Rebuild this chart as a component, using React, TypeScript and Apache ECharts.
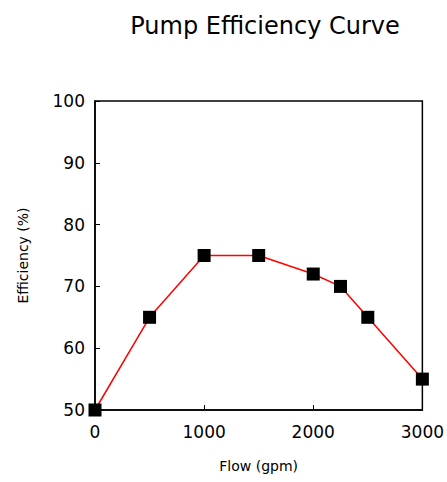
import React, { useEffect, useRef } from "react";
import * as echarts from "echarts";

const flow = [0, 500, 1000, 1500, 2000, 2250, 2500, 3000];
const efficiency = [50, 65, 75, 75, 72, 70, 65, 55];
const titleText = "Pump Efficiency Curve";
const xName = "Flow (gpm)";
const yName = "Efficiency (%)";

export default function App() {
  const ref = useRef<HTMLDivElement>(null);
  useEffect(() => {
    document.body.style.margin = "0";
    const chart = echarts.init(ref.current!, null, { renderer: "svg" });
    const font = "DejaVu Sans, sans-serif";
    chart.setOption({
      animation: false,
      backgroundColor: "#fff",
      title: {
        text: titleText,
        left: 260,
        textAlign: "center",
        top: 9,
        textStyle: { fontFamily: font, fontSize: 24, fontWeight: "normal", color: "#000" },
      },
      grid: {
        left: 95,
        right: 22,
        top: 101,
        bottom: 72,
        show: true,
        borderColor: "#000",
        borderWidth: 1.5,
        backgroundColor: "transparent",
      },
      xAxis: {
        type: "value",
        min: 0,
        max: 3000,
        interval: 1000,
        name: xName,
        nameLocation: "middle",
        nameGap: 49,
        nameTextStyle: { fontFamily: font, fontSize: 14, color: "#000" },
        axisLine: { show: true, lineStyle: { color: "#000", width: 1.5 } },
        axisTick: { show: true, inside: true, length: 5, lineStyle: { color: "#000" } },
        axisLabel: {
          fontFamily: font,
          fontSize: 17,
          color: "#000",
          margin: 13,
          formatter: (v: number) => String(v),
        },
        splitLine: { show: false },
      },
      yAxis: {
        type: "value",
        min: 50,
        max: 100,
        interval: 10,
        name: yName,
        nameLocation: "middle",
        nameGap: 65,
        nameTextStyle: { fontFamily: font, fontSize: 14, color: "#000" },
        axisLine: { show: true, lineStyle: { color: "#000", width: 1.5 } },
        axisTick: { show: true, inside: true, length: 5, lineStyle: { color: "#000" } },
        axisLabel: { fontFamily: font, fontSize: 17, color: "#000", margin: 10 },
        splitLine: { show: false },
      },
      series: [
        {
          type: "line",
          data: flow.map((f, i) => [f, efficiency[i]]),
          symbol: "rect",
          symbolSize: 13,
          itemStyle: { color: "#000" },
          lineStyle: { color: "#ff0000", width: 1.5 },
          clip: false,
          z: 3,
        },
      ],
    });
    return () => chart.dispose();
  }, []);
  return <div ref={ref} style={{ width: 447, height: 482 }} />;
}
